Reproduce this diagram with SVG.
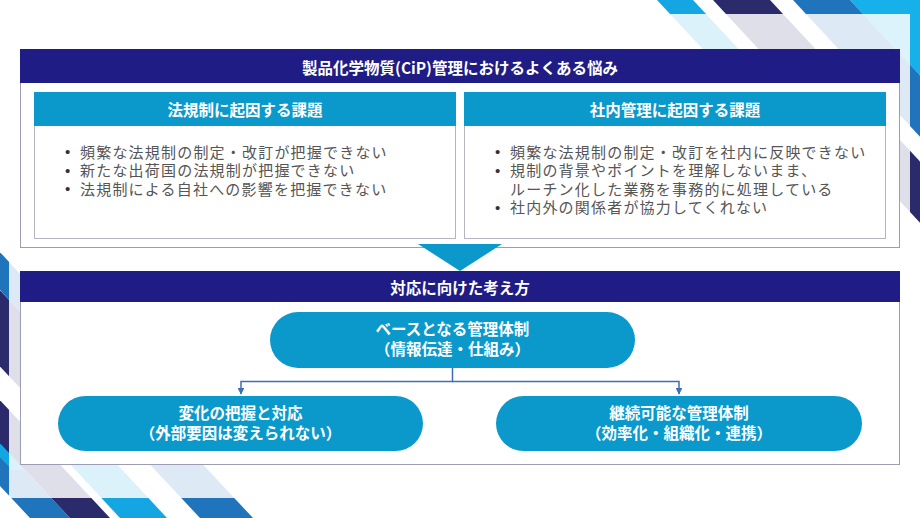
<svg xmlns="http://www.w3.org/2000/svg" width="920" height="518" viewBox="0 0 920 518">
<defs>
<style>
.navy{fill:#1f1c85}
.cyan{fill:#0b99cc}
.box{fill:#ffffff;stroke:#9c9db2;stroke-width:1}
.sub{fill:#ffffff;stroke:#b4b5be;stroke-width:1}
.ht{font-family:"Noto Sans CJK JP","Noto Sans",sans-serif;font-weight:bold;fill:#ffffff;text-anchor:middle;dominant-baseline:central}
.pt{font-family:"Liberation Sans","Noto Sans CJK JP",sans-serif;font-weight:bold;fill:#ffffff;text-anchor:middle;font-size:15.5px}
.bt{font-family:"Liberation Sans","Noto Sans CJK JP",sans-serif;fill:#555555;font-size:15px;letter-spacing:1.2px}
.bl{font-family:"Liberation Sans",sans-serif;fill:#333333;font-size:15px}
.conn{fill:none;stroke:#3d6fb2;stroke-width:1.5}
.s-lb{fill:#14a6e2}
.s-nv{fill:#2b2a6b}
.s-mb{fill:#1f74bb}
.s-cy{fill:#16b0ea}
</style>
<marker id="arr" viewBox="0 0 10 10" refX="9" refY="5" markerWidth="4.5" markerHeight="4.5" orient="auto" markerUnits="strokeWidth">
<path d="M0,0 L10,5 L0,10 z" fill="#3d6fb2"/>
</marker>
</defs>

<rect width="920" height="518" fill="#ffffff"/>

<g id="decor">
<polygon class="s-cy" points="850,0 1000,0 1223,240 1073,240"/>
<polygon class="s-mb" points="793,0 850,0 1073,240 1016,240"/>
<polygon class="s-nv" points="713,0 770,0 993,240 936,240"/>
<polygon class="s-lb" points="657,0 693,0 879,200 843,200"/>
<polygon class="s-mb" points="-37,250 -2,250 72,330 37,330"/>
<polygon class="s-nv" points="-76,285 -5,285 121,420 50,420"/>
<polygon class="s-mb" points="-43,440 -3,440 70,518 30,518"/>
<polygon class="s-lb" points="-30,425 -5,425 37,470 12,470"/>
<polygon class="s-nv" points="-45,395 -5,395 110,518 70,518"/>
<polygon class="s-lb" points="29,420 76,420 167,518 120,518"/>
<polygon class="s-mb" points="127,440 180,440 253,518 200,518"/>
<rect x="9" y="14" width="901" height="484" fill="#ffffff" opacity="0.85"/>
</g>

<g id="box-issues">
<rect class="box" x="20.5" y="49.5" width="879" height="198"/>
<rect class="navy" x="20" y="49" width="880" height="34"/>
<text class="ht" x="460" y="66.5" font-size="15.5">製品化学物質(CiP)管理におけるよくある悩み</text>
</g>

<g id="box-law">
<rect class="sub" x="34.5" y="92.5" width="421" height="146"/>
<rect class="cyan" x="34" y="92" width="422" height="34"/>
<text class="ht" x="245" y="108.5" font-size="15.5">法規制に起因する課題</text>
<text class="bl"><tspan x="65" y="157">•</tspan><tspan x="65" y="175.5">•</tspan><tspan x="65" y="194">•</tspan></text>
<text class="bt"><tspan x="80" y="157.5">頻繁な法規制の制定・改訂が把握できない</tspan><tspan x="80" y="176">新たな出荷国の法規制が把握できない</tspan><tspan x="80" y="194.5">法規制による自社への影響を把握できない</tspan></text>
</g>

<g id="box-internal">
<rect class="sub" x="464.5" y="92.5" width="421" height="146"/>
<rect class="cyan" x="464" y="92" width="422" height="34"/>
<text class="ht" x="675" y="108.5" font-size="15.5">社内管理に起因する課題</text>
<text class="bl"><tspan x="495" y="157">•</tspan><tspan x="495" y="175.5">•</tspan><tspan x="495" y="212.5">•</tspan></text>
<text class="bt"><tspan x="510" y="157.5">頻繁な法規制の制定・改訂を社内に反映できない</tspan><tspan x="510" y="176">規制の背景やポイントを理解しないまま、</tspan><tspan x="510" y="194.5">ルーチン化した業務を事務的に処理している</tspan><tspan x="510" y="213">社内外の関係者が協力してくれない</tspan></text>
</g>

<g id="arrow-down">
<polygon class="cyan" points="418,244 502,244 460,271"/>
</g>

<g id="box-approach">
<rect class="box" x="20.5" y="271.5" width="879" height="193"/>
<rect class="navy" x="20" y="271" width="880" height="31"/>
<text class="ht" x="460" y="287" font-size="15.5">対応に向けた考え方</text>
</g>

<g id="node-base">
<rect class="cyan" x="270" y="312" width="365" height="56" rx="28"/>
<text class="pt"><tspan x="452.5" y="335.2">ベースとなる管理体制</tspan><tspan x="452.5" y="354.7">（情報伝達・仕組み）</tspan></text>
</g>

<g id="node-change">
<rect class="cyan" x="58" y="396" width="365" height="55" rx="27.5"/>
<text class="pt"><tspan x="240.5" y="419.2">変化の把握と対応</tspan><tspan x="240.5" y="439.2">（外部要因は変えられない）</tspan></text>
</g>

<g id="node-continuous">
<rect class="cyan" x="496" y="396" width="366" height="55" rx="27.5"/>
<text class="pt"><tspan x="679" y="419.2">継続可能な管理体制</tspan><tspan x="679" y="439.2">（効率化・組織化・連携）</tspan></text>
</g>

<g id="connectors">
<path class="conn" d="M452.5,368 V381.5 H241 V394" marker-end="url(#arr)"/>
<path class="conn" d="M452.5,381.5 H679 V394" marker-end="url(#arr)"/>
</g>
</svg>
